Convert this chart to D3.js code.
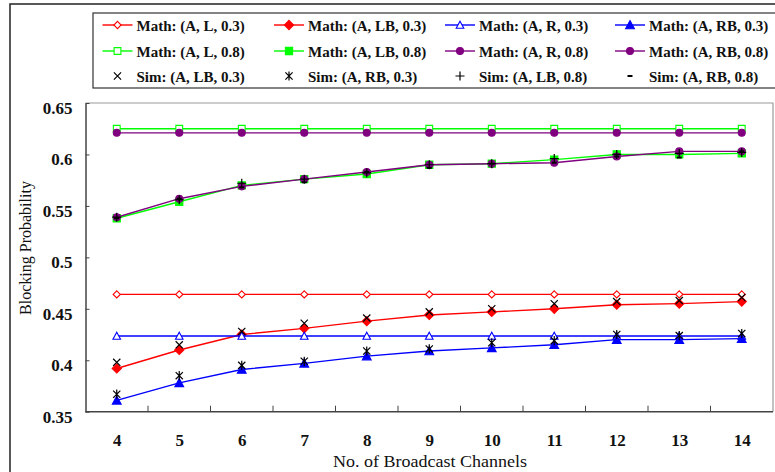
<!DOCTYPE html>
<html>
<head>
<meta charset="utf-8">
<script src="https://cdn.jsdelivr.net/npm/d3@7"></script>
<style>
  html, body { margin: 0; padding: 0; background: #fff; }
  svg { display: block; font-family: "Liberation Serif", "Times New Roman", serif; }
</style>
</head>
<body>
<svg id="chart" width="775" height="472"></svg>
<script>
// Number of broadcast channels (x categories)
const categories = [4, 5, 6, 7, 8, 9, 10, 11, 12, 13, 14];
const yTicks = [0.35, 0.4, 0.45, 0.5, 0.55, 0.6, 0.65];
const yTickLabels = ["0.35", "0.4", "0.45", "0.5", "0.55", "0.6", "0.65"];

// Analytical blocking probabilities
const mathL03  = [0.464, 0.464, 0.464, 0.464, 0.464, 0.464, 0.464, 0.464, 0.464, 0.464, 0.464];
const mathLB03 = [0.392, 0.410, 0.425, 0.431, 0.438, 0.444, 0.447, 0.450, 0.454, 0.455, 0.457];
const mathR03  = [0.4235, 0.4235, 0.4235, 0.4235, 0.4235, 0.4235, 0.4235, 0.4235, 0.4235, 0.4235, 0.4235];
const mathRB03 = [0.361, 0.378, 0.391, 0.397, 0.404, 0.409, 0.412, 0.415, 0.420, 0.420, 0.421];
const mathL08  = [0.625, 0.625, 0.625, 0.625, 0.625, 0.625, 0.625, 0.625, 0.625, 0.625, 0.625];
const mathLB08 = [0.538, 0.554, 0.570, 0.576, 0.581, 0.590, 0.591, 0.595, 0.600, 0.600, 0.601];
const mathR08  = [0.621, 0.621, 0.621, 0.621, 0.621, 0.621, 0.621, 0.621, 0.621, 0.621, 0.621];
const mathRB08 = [0.539, 0.557, 0.569, 0.576, 0.583, 0.590, 0.591, 0.592, 0.598, 0.603, 0.603];

// Simulation results
const simLB03 = [0.398, 0.415, 0.428, 0.436, 0.441, 0.447, 0.450, 0.455, 0.457, 0.458, 0.461];
const simRB03 = [0.367, 0.385, 0.395, 0.399, 0.409, 0.411, 0.417, 0.419, 0.425, 0.424, 0.426];
const simLB08 = [0.539, 0.556, 0.572, 0.576, 0.582, 0.590, 0.591, 0.596, 0.600, 0.601, 0.602];
const simRB08 = [0.538, 0.557, 0.568, 0.573, 0.583, 0.587, 0.591, 0.592, 0.598, 0.597, 0.603];

const seriesNames = [
  "Math: (A, L, 0.3)", "Math: (A, LB, 0.3)", "Math: (A, R, 0.3)", "Math: (A, RB, 0.3)",
  "Math: (A, L, 0.8)", "Math: (A, LB, 0.8)", "Math: (A, R, 0.8)", "Math: (A, RB, 0.8)",
  "Sim: (A, LB, 0.3)", "Sim: (A, RB, 0.3)", "Sim: (A, LB, 0.8)", "Sim: (A, RB, 0.8)"
];
const seriesValues = [mathL03, mathLB03, mathR03, mathRB03, mathL08, mathLB08, mathR08, mathRB08,
                      simLB03, simRB03, simLB08, simRB08];
const seriesColors = ["#ff0000", "#ff0000", "#0000ff", "#0000ff", "#00ff00", "#00ff00", "#800080", "#800080",
                      "#000000", "#000000", "#000000", "#000000"];
const seriesMarkers = ["diamondOpen", "diamondFilled", "triangleOpen", "triangleFilled",
                       "squareOpen", "squareFilled", "circle", "circle",
                       "cross", "star", "plus", "dash"];
const seriesLines = [true, true, true, true, true, true, true, true, false, false, false, false];

const series = seriesNames.map((name, i) => ({
  name, values: seriesValues[i], color: seriesColors[i], marker: seriesMarkers[i], line: seriesLines[i]
}));

const svg = d3.select("#chart");
const plot = { left: 85.5, right: 773, top: 103, bottom: 411.7 };

const x = d3.scalePoint().domain(categories).range([plot.left, plot.right]).padding(0.5);
const y = d3.scaleLinear().domain([0.35, 0.65]).range([plot.bottom, plot.top]);
const step = x.step();

// Outer frame
svg.append("rect").attr("x", 10).attr("y", 4).attr("width", 800).attr("height", 500)
  .attr("fill", "none").attr("stroke", "#222").attr("stroke-width", 1.5);

// Plot area border (top/right lighter)
svg.append("path")
  .attr("d", `M${plot.left},${plot.top}H${plot.right}V${plot.bottom}`)
  .attr("fill", "none").attr("stroke", "#9a9a9a").attr("stroke-width", 1.2);

// Y axis
const yAxis = d3.axisLeft(y).tickValues(yTicks)
  .tickFormat((d, i) => yTickLabels[i]).tickSizeInner(-4).tickSizeOuter(0).tickPadding(13);
const gy = svg.append("g").attr("transform", `translate(${plot.left},0)`).call(yAxis);
gy.select(".domain").attr("stroke", "#444").attr("stroke-width", 1.5);
gy.selectAll(".tick line").attr("stroke", "#444").attr("stroke-width", 1);
gy.selectAll(".tick text")
  .attr("font-family", "Liberation Serif, serif").attr("font-size", 17).attr("font-weight", "bold")
  .attr("fill", "#111").attr("dy", "0.62em");

// X axis: labels at category centres, ticks between categories
const xAxis = d3.axisBottom(x).tickSize(0).tickPadding(22);
const gx = svg.append("g").attr("transform", `translate(0,${plot.bottom})`).call(xAxis);
gx.select(".domain").remove();
gx.selectAll(".tick text")
  .attr("font-family", "Liberation Serif, serif").attr("font-size", 17).attr("font-weight", "bold")
  .attr("fill", "#111");
svg.append("line").attr("x1", plot.left).attr("x2", plot.right)
  .attr("y1", plot.bottom).attr("y2", plot.bottom)
  .attr("stroke", "#444").attr("stroke-width", 1.5);
svg.append("g").selectAll("line").data(categories.slice(1)).join("line")
  .attr("x1", d => x(d) - step / 2).attr("x2", d => x(d) - step / 2)
  .attr("y1", plot.bottom).attr("y2", plot.bottom - 6)
  .attr("stroke", "#444").attr("stroke-width", 1);

// Axis titles
svg.append("text").attr("x", 430).attr("y", 467).attr("text-anchor", "middle")
  .attr("font-size", 16).attr("fill", "#111")
  .attr("textLength", 194).attr("lengthAdjust", "spacingAndGlyphs")
  .text("No. of Broadcast Channels");
svg.append("text").attr("transform", "translate(31,248) rotate(-90)").attr("text-anchor", "middle")
  .attr("font-size", 16).attr("fill", "#111")
  .text("Blocking Probability");

// Marker path builders
function markerPath(type) {
  switch (type) {
    case "diamondOpen": { const r = 3.6; return `M0,${-r}L${r},0L0,${r}L${-r},0Z`; }
    case "diamondFilled": { const r = 4.6; return `M0,${-r}L${r},0L0,${r}L${-r},0Z`; }
    case "triangleOpen": { const r = 3.8; return `M0,${-r}L${r},${r * 0.85}L${-r},${r * 0.85}Z`; }
    case "triangleFilled": { const r = 4.4; return `M0,${-r}L${r},${r * 0.85}L${-r},${r * 0.85}Z`; }
    case "squareOpen": { const r = 3.4; return `M${-r},${-r}H${r}V${r}H${-r}Z`; }
    case "squareFilled": { const r = 3.6; return `M${-r},${-r}H${r}V${r}H${-r}Z`; }
    case "circle": { return d3.symbol(d3.symbolCircle, 38)(); }
    case "cross": { const r = 3.6; return `M${-r},${-r}L${r},${r}M${r},${-r}L${-r},${r}`; }
    case "star": { const r = 3.6; return `M${-r},${-r}L${r},${r}M${r},${-r}L${-r},${r}M0,${-r - 1}V${r + 1}`; }
    case "plus": { const r = 4.5; return `M${-r},0H${r}M0,${-r}V${r}`; }
    case "dash": { const r = 2.5; return `M${-r},0H${r}`; }
  }
}
function markerStyle(sel, s) {
  const open = s.marker.endsWith("Open");
  const strokeOnly = ["cross", "star", "plus", "dash"].includes(s.marker);
  sel.attr("d", markerPath(s.marker))
    .attr("fill", open || strokeOnly ? (open ? "#fff" : "none") : s.color)
    .attr("stroke", s.color)
    .attr("stroke-width", s.marker === "dash" ? 2 : (strokeOnly ? 1.2 : 1.1));
}

// Series lines and markers
const line = d3.line().x((d, i) => x(categories[i])).y(d => y(d));
const gSeries = svg.append("g");
series.forEach(s => {
  const g = gSeries.append("g");
  if (s.line) {
    g.append("path").datum(s.values).attr("d", line)
      .attr("fill", "none").attr("stroke", s.color).attr("stroke-width", 1.4);
  }
  g.selectAll("path.m").data(s.values).join("path").attr("class", "m")
    .attr("transform", (d, i) => `translate(${x(categories[i])},${y(d)})`)
    .call(markerStyle, s);
});

// Legend
svg.append("rect").attr("x", 93).attr("y", 13).attr("width", 700).attr("height", 75)
  .attr("fill", "#fff").attr("stroke", "#333").attr("stroke-width", 1.2);
const legendCols = [102.5, 274, 445, 615];
const legendRows = [25, 51, 76];
const legend = svg.append("g");
series.forEach((s, i) => {
  const cx = legendCols[i % 4], cy = legendRows[Math.floor(i / 4)];
  const g = legend.append("g").attr("transform", `translate(${cx},${cy})`);
  if (s.line) {
    g.append("line").attr("x1", 0).attr("x2", 30).attr("y1", 0).attr("y2", 0)
      .attr("stroke", s.color).attr("stroke-width", 1.4);
  }
  g.append("path").attr("transform", "translate(15,0)").call(markerStyle, s);
  g.append("text").attr("x", 34).attr("y", 5.5)
    .attr("font-size", 15).attr("font-weight", "bold").attr("fill", "#111")
    .text(s.name);
});
</script>
</body>
</html>
